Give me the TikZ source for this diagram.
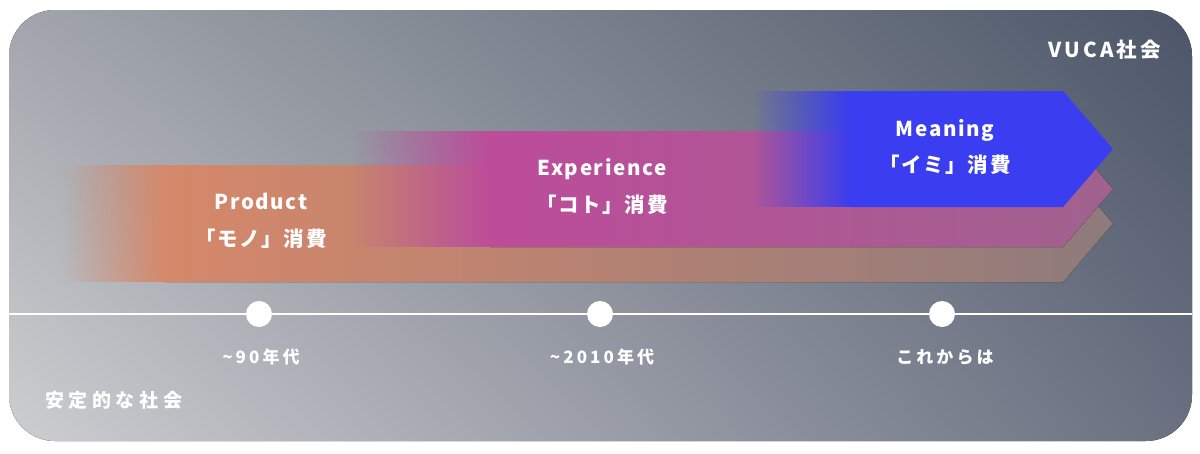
\documentclass[tikz,border=0pt]{standalone}
\usepackage{fontspec}
\setmainfont{Noto Sans CJK JP}
\newfontfamily\jpA{Noto Sans CJK JP}[LetterSpace=8]
\newfontfamily\jpB{Noto Sans CJK JP}[LetterSpace=18]
\newfontfamily\jpC{Noto Sans CJK JP}[LetterSpace=24]
\newfontfamily\jpD{Noto Sans CJK JP}[LetterSpace=15]
\usetikzlibrary{fadings,shadings}
\tikzfading[name=fadein, left color=transparent!100, right color=transparent!0]
\definecolor{bgUL}{HTML}{A2A6AC}
\definecolor{bgLL}{HTML}{CDCED1}
\definecolor{bgUR}{HTML}{4C5668}
\definecolor{bgLR}{HTML}{6A7081}
\definecolor{orA}{HTML}{D6886A}
\definecolor{orM}{HTML}{C48A73}
\definecolor{orB}{HTML}{8E7B7C}
\definecolor{pkA}{HTML}{BD4C9B}
\definecolor{pkB}{HTML}{A0628E}
\definecolor{blA}{HTML}{3A3DF0}
\tikzset{
  mainlbl/.style={text=white, font=\jpA\bfseries\fontsize{20.5}{24}\selectfont, anchor=base, inner sep=0pt},
  timelbl/.style={text=white, font=\jpB\bfseries\fontsize{17}{20}\selectfont, anchor=base, inner sep=0pt},
  dot/.style={circle, fill=white, minimum size=26pt, inner sep=0pt},
}
\begin{document}
\begin{tikzpicture}[x=1pt,y=-1pt]
\useasboundingbox (0,0) rectangle (1200,453);
% background
\fill[rounded corners=46pt, upper left=bgUL, lower left=bgLL, upper right=bgUR, lower right=bgLR] (9,10) rectangle (1192,441);
% orange arrow
\fill[orA, path fading=fadein] (62,165) rectangle (166,282);
\fill[left color=orA, middle color=orM, right color=orB] (165,165) -- (1063,165) -- (1113,223.5) -- (1063,282) -- (165,282) -- cycle;
% pink arrow
\fill[pkA, path fading=fadein] (352,131) rectangle (491,247);
\fill[left color=pkA, right color=pkB] (490,131) -- (1063,131) -- (1113,189) -- (1063,247) -- (490,247) -- cycle;
% blue arrow
\fill[blA, path fading=fadein] (752,91) rectangle (851,207);
\fill[blA] (850,91) -- (1063,91) -- (1113,149) -- (1063,207) -- (850,207) -- cycle;
% timeline
\coordinate (tl) at (9,314);
\coordinate (tr) at (1192,314);
\draw[white, line width=2pt] (tl) -- (tr);
\node[dot] (d1) at (259,314) {};
\node[dot] (d2) at (600,314) {};
\node[dot] (d3) at (942,314) {};
% labels
\node[mainlbl] (p1) at (261,209) {Product};
\node[mainlbl] (p2) at (261,246) {「モノ」消費};
\node[mainlbl] (e1) at (602,175) {Experience};
\node[mainlbl] (e2) at (602,212) {「コト」消費};
\node[mainlbl] (m1) at (945,136) {Meaning};
\node[mainlbl] (m2) at (945,172) {「イミ」消費};
\node[timelbl] (t1) at (261,363) {\string~90年代};
\node[timelbl] (t2) at (602,363) {\string~2010年代};
\node[timelbl] (t3) at (945,363) {これからは};
\node[text=white, font=\jpC\bfseries\fontsize{19}{22}\selectfont, anchor=base west, inner sep=0pt] (s1) at (45,407) {安定的な社会};
\node[text=white, font=\jpD\bfseries\fontsize{20.5}{22}\selectfont, anchor=base east, inner sep=0pt] (s2) at (1161,57) {VUCA社会};
\end{tikzpicture}
\end{document}
